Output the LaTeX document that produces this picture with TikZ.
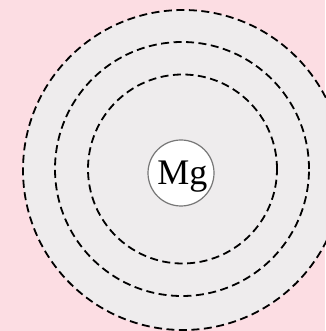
\documentclass[tikz,border=0pt]{standalone}
\usepackage{fontspec}
\setmainfont{Liberation Serif}
\definecolor{bgpink}{HTML}{FCDDE3}
\definecolor{diskgray}{HTML}{EEECED}
\definecolor{nucgray}{HTML}{777777}
\begin{document}
\begin{tikzpicture}[x=1pt,y=1pt,
  shell/.style={circle,draw=black,line width=1.8pt,dash pattern=on 8pt off 4.5pt,inner sep=0pt},
  nucleus/.style={circle,draw=nucgray,fill=white,line width=1.2pt,inner sep=0pt,minimum size=66pt}]
\path[fill=bgpink] (0,0) rectangle (325,331);
\useasboundingbox (0,0) rectangle (325,331);
\node[shell,fill=diskgray,minimum size=320pt] (outer) at (183,161) {};
\node[shell,minimum size=254pt] (middle) at (182,162) {};
\node[shell,minimum size=189pt] (inner) at (182.5,162) {};
\node[nucleus] (mg) at (181,158) {};
\node[anchor=base,inner sep=0pt,font=\fontsize{36}{40}\selectfont] (mgtext) at (182.3,146.3) {Mg};
\end{tikzpicture}
\end{document}
